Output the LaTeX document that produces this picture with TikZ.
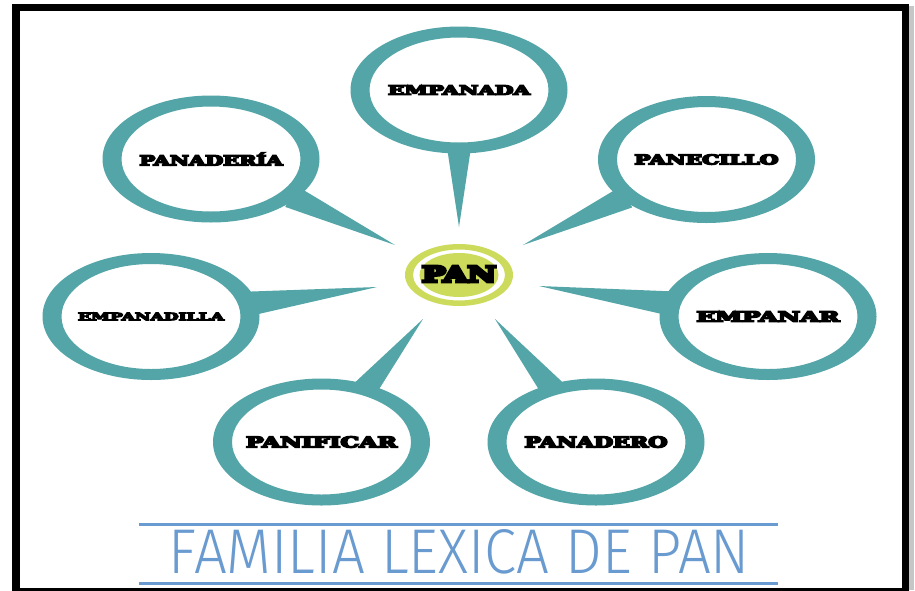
\documentclass[tikz,border=0pt]{standalone}
\usepackage{graphicx}
\usepackage{fontspec}
\usetikzlibrary{calc}
\newfontfamily\heavy{DejaVu Serif Bold}
\newfontfamily\titlefont{Fira Sans Light}
\newcommand\hv[2][1.0]{{\heavy\special{pdf:code q 2 Tr #1 w}#2\special{pdf:code Q}}}
\definecolor{bubteal}{HTML}{54A5A8}
\definecolor{panring}{HTML}{CCDB5C}
\definecolor{titleblue}{HTML}{6A9BD0}
\tikzset{
  lbl/.style={inner sep=0pt, text=black},
  tailshape/.style={fill=bubteal},
  titleline/.style={draw=titleblue, line width=3pt},
  frameline/.style={draw=black, line width=7.5pt}
}
\newcommand\mybubble[6]{%
  \coordinate (#1c) at (#2);
  \coordinate (#1e) at (#3);
  \coordinate (#1t) at (#4);
  \coordinate (#1b) at ($(#1e)!-6pt!(#1t)$);
  \fill[tailshape] ($(#1b)!12pt!90:(#1t)$) -- (#1t) -- ($(#1b)!12pt!-90:(#1t)$) -- cycle;
  \fill[bubteal, even odd rule] (#1c) ellipse [x radius=108.5, y radius=63.5]
     (#1c) ellipse [x radius=89.5, y radius=52.5];
  \node[lbl] (#1) at (#1c) {#5};
}
\begin{document}
\begin{tikzpicture}[x=1pt, y=-1pt]
\useasboundingbox (0,0) rectangle (915,590);
\clip (0,0) rectangle (915,590);
\fill[white] (0,0) rectangle (915,590);
% frame
\fill[gray!45] (909,6) rectangle (914,590);
\draw[frameline] (16,7.5) rectangle (905.5,592);
% centre
\fill[panring, even odd rule] (459,275) ellipse [x radius=54, y radius=31]
   (459,275) ellipse [x radius=46, y radius=25.5];
\fill[panring] (459,275) ellipse [x radius=39.5, y radius=22];
\node[lbl] (pan) at (459,274) {\resizebox{74pt}{16pt}{\hv[1.3]{PAN}}};
% bubbles
\mybubble{emp}{459,90}{459,153.5}{459,227}{\resizebox{142pt}{9.5pt}{\hv{EMPANADA}}}{}
\mybubble{pdr}{211,159}{295.8,198.6}{395,245}{\resizebox{143pt}{13pt}{\hv{PANADERÍA}}}{}
\mybubble{pnc}{706.5,159.5}{621.6,199.1}{523,245}{\resizebox{144pt}{10pt}{\hv{PANECILLO}}}{}
\mybubble{epd}{151,316.5}{256.9,302.7}{377,287}{\resizebox{146pt}{7.5pt}{\hv{EMPANADILLA}}}{}
\mybubble{epn}{768,316.5}{662.2,302.4}{539,286}{\resizebox{143pt}{10.5pt}{\hv{EMPANAR}}}{}
\mybubble{pnf}{321.5,442}{368.7,384.8}{423,319}{\resizebox{151pt}{11pt}{\hv{PANIFICAR}}}{}
\mybubble{pnd}{596,442}{549,384.8}{495,319}{\resizebox{143pt}{11pt}{\hv{PANADERO}}}{}
% title
\coordinate (l1a) at (139,524); \coordinate (l1b) at (778,524);
\coordinate (l2a) at (139,583); \coordinate (l2b) at (778,583);
\draw[titleline] (l1a) -- (l1b);
\draw[titleline] (l2a) -- (l2b);
\node[inner sep=0pt, text=titleblue] (title) at (459.5,552) {\resizebox{581pt}{44pt}{\titlefont FAMILIA LEXICA DE PAN}};
\end{tikzpicture}
\end{document}
